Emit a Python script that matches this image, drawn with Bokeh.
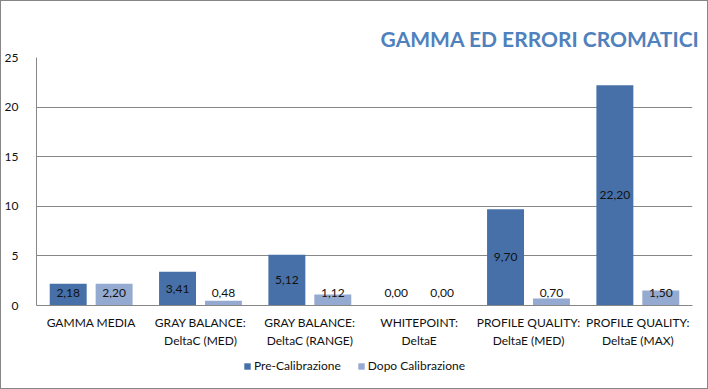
from bokeh.plotting import figure
from bokeh.layouts import column
from bokeh.models import Range1d, FixedTicker, Legend, LegendItem, ColumnDataSource
from bokeh.core.properties import value
from bokeh.embed import file_html
from bokeh.resources import INLINE

categories = ["GAMMA MEDIA", "GRAY BALANCE:\nDeltaC (MED)", "GRAY BALANCE:\nDeltaC (RANGE)",
              "WHITEPOINT:\nDeltaE", "PROFILE QUALITY:\nDeltaE (MED)", "PROFILE QUALITY:\nDeltaE (MAX)"]
pre_calibrazione = [2.18, 3.41, 5.12, 0.00, 9.70, 22.20]
dopo_calibrazione = [2.20, 0.48, 1.12, 0.00, 0.70, 1.50]
y_ticks = [0, 5, 10, 15, 20, 25]
series_names = ["Pre-Calibrazione", "Dopo Calibrazione"]
title_text = "GAMMA ED ERRORI CROMATICI"

PRE_COLOR = "#4670A7"
POST_COLOR = "#95AAD1"
GRID = "#878787"
FONT = "Lato"
TXT = "#111111"

n = len(categories)
p = figure(width=706, height=351, output_backend="svg", toolbar_location=None,
           x_range=Range1d(0, n), y_range=Range1d(0, 25),
           min_border_left=34, min_border_right=15, min_border_top=56, min_border_bottom=47)
p.outline_line_color = None
p.background_fill_color = "white"
p.border_fill_color = "white"

p.title.text = title_text
p.title.align = "right"
p.title.text_font = FONT
p.title.text_font_style = "bold"
p.title.text_font_size = "21px"
p.title.text_color = "#4F81BD"
p.title.offset = -7
p.title.standoff = 13

centers = [i + 0.5 for i in range(n)]
off = 0.21
bw = 0.338
pre_x = [c - off for c in centers]
post_x = [c + off for c in centers]

def lab_y(vals):
    return [max(v / 2.0, 1.3) for v in vals]

def fmt(v):
    return f"{v:.2f}".replace(".", ",")

src_pre = ColumnDataSource(dict(x=pre_x, top=pre_calibrazione, ly=lab_y(pre_calibrazione),
                                t=[fmt(v) for v in pre_calibrazione]))
src_post = ColumnDataSource(dict(x=post_x, top=dopo_calibrazione, ly=lab_y(dopo_calibrazione),
                                 t=[fmt(v) for v in dopo_calibrazione]))

p.vbar(x="x", top="top", bottom=0, width=bw, source=src_pre, fill_color=PRE_COLOR, line_color=None)
p.vbar(x="x", top="top", bottom=0, width=bw, source=src_post, fill_color=POST_COLOR, line_color=None)

for src in (src_pre, src_post):
    p.text(x="x", y="ly", text="t", source=src, text_align="center", text_baseline="middle",
           text_font=value(FONT), text_font_size="12px", text_color=TXT)

# axes
p.xaxis.ticker = FixedTicker(ticks=centers)
p.xaxis.major_label_overrides = {c: lab for c, lab in zip(centers, categories)}
p.xaxis.major_label_text_font = FONT
p.xaxis.major_label_text_font_size = "12px"
p.xaxis.major_label_text_color = TXT
p.xaxis.major_label_text_line_height = 1.25
p.xaxis.major_label_standoff = 3
p.xaxis.major_tick_line_color = None
p.xaxis.minor_tick_line_color = None
p.xaxis.axis_line_color = GRID

p.yaxis.ticker = FixedTicker(ticks=y_ticks)
p.yaxis.major_label_text_font = FONT
p.yaxis.major_label_text_font_size = "12px"
p.yaxis.major_label_text_color = TXT
p.yaxis.major_label_standoff = 12
p.yaxis.major_tick_line_color = None
p.yaxis.minor_tick_line_color = None
p.yaxis.axis_line_color = GRID

p.xgrid.grid_line_color = None
p.ygrid.ticker = FixedTicker(ticks=y_ticks)
p.ygrid.grid_line_color = GRID

# legend strip below the chart (swatch renderers have zero height, so only the legend shows)
lg = figure(width=706, height=36, output_backend="svg", toolbar_location=None,
            x_range=Range1d(0, 1), y_range=Range1d(0, 1),
            x_axis_location=None, y_axis_location=None,
            min_border_left=34, min_border_right=15, min_border_top=0, min_border_bottom=0)
lg.outline_line_color = None
lg.grid.visible = False
lg.background_fill_color = "white"
lg.border_fill_color = "white"
lr_pre = lg.vbar(x=[0.5], top=[0], bottom=0, width=0.1, fill_color=PRE_COLOR, line_color=None)
lr_post = lg.vbar(x=[0.5], top=[0], bottom=0, width=0.1, fill_color=POST_COLOR, line_color=None)
legend = Legend(items=[LegendItem(label=series_names[0], renderers=[lr_pre]),
                       LegendItem(label=series_names[1], renderers=[lr_post])],
                orientation="horizontal", location=(207, 15),
                glyph_width=8, glyph_height=8, label_height=12, label_standoff=3,
                spacing=16, padding=0, margin=0,
                border_line_color=None, background_fill_alpha=0,
                label_text_font=FONT, label_text_font_size="12px", label_text_color=TXT)
lg.add_layout(legend)

layout = column(p, lg, spacing=0, styles={"border": "1px solid #868686"})
open("out.html", "w").write(file_html(layout, INLINE))
